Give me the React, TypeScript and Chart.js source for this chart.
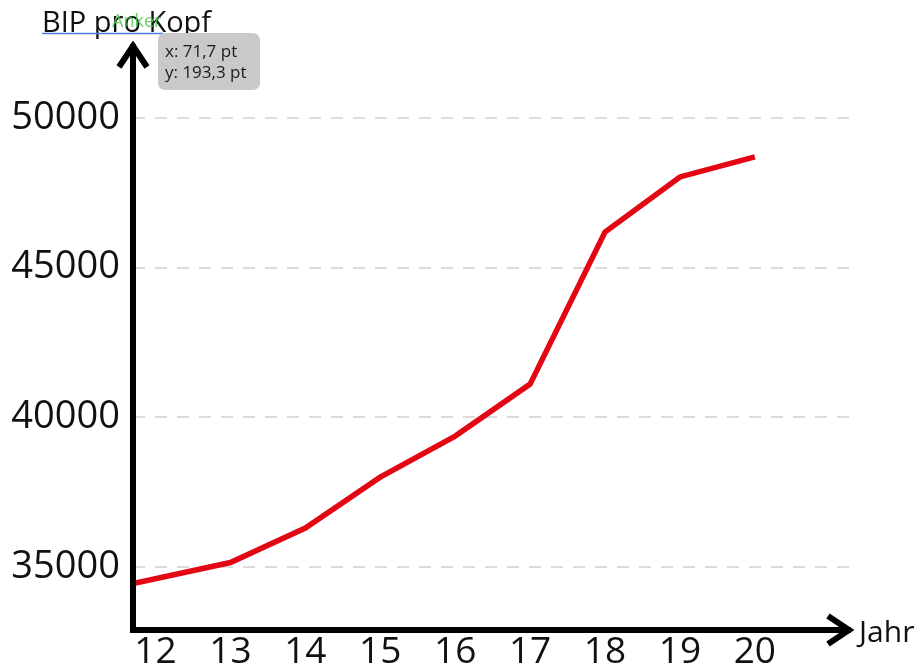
import React, { useEffect, useRef } from "react";
import { Chart, registerables } from "chart.js";

Chart.register(...registerables);

const years = [11.7, 13, 14, 15, 16, 17, 18, 19, 20];
const gdpPerCapita = [34450, 35150, 36300, 38000, 39375, 41110, 46190, 48030, 48700];
const xTickYears = [12, 13, 14, 15, 16, 17, 18, 19, 20];
const yTickValues = [35000, 40000, 45000, 50000];
const yAxisTitle = "BIP pro Kopf";
const xAxisTitle = "Jahr";
const anchorLabel = "Anker";
const infoLines = ["x: 71,7 pt", "y: 193,3 pt"];

const FONT = "'Open Sans', 'DejaVu Sans', sans-serif";

const overlayPlugin = {
  id: "axesOverlay",
  afterDatasetsDraw(chart: any) {
    const { ctx, chartArea } = chart;
    const { left, top, bottom, right } = chartArea;
    ctx.save();
    // axes
    ctx.strokeStyle = "#000";
    ctx.lineWidth = 6;
    ctx.lineCap = "butt";
    ctx.lineJoin = "miter";
    ctx.beginPath();
    ctx.moveTo(left, bottom + 3);
    ctx.lineTo(left, top + 2);
    ctx.moveTo(left - 3, bottom);
    ctx.lineTo(right + 1, bottom);
    ctx.stroke();
    // y arrow
    ctx.beginPath();
    ctx.moveTo(left - 14, top + 25);
    ctx.lineTo(left, top + 4);
    ctx.lineTo(left + 14, top + 25);
    ctx.stroke();
    // x arrow
    ctx.beginPath();
    ctx.moveTo(right - 22, bottom - 14);
    ctx.lineTo(right - 1, bottom);
    ctx.lineTo(right - 22, bottom + 14);
    ctx.stroke();

    // titles
    ctx.fillStyle = "#111";
    ctx.textBaseline = "alphabetic";
    ctx.textAlign = "left";
    ctx.font = `29px ${FONT}`;
    ctx.fillText(yAxisTitle, 42, 32);
    ctx.font = `30px ${FONT}`;
    ctx.fillText(xAxisTitle, 859, 642);

    // blue anchor line
    ctx.strokeStyle = "#4f7be8";
    ctx.lineWidth = 1.6;
    ctx.beginPath();
    ctx.moveTo(42, 33.5);
    ctx.lineTo(163, 33.5);
    ctx.stroke();

    ctx.fillStyle = "rgba(80, 205, 80, 0.85)";
    ctx.font = `18px ${FONT}`;
    ctx.fillText(anchorLabel, 112, 27);

    // info box
    ctx.fillStyle = "#c9c9c9";
    ctx.beginPath();
    (ctx as any).roundRect(158, 33, 102, 57, 7);
    ctx.fill();
    ctx.fillStyle = "#1a1a1a";
    ctx.font = `17px ${FONT}`;
    ctx.fillText(infoLines[0], 165, 57);
    ctx.fillText(infoLines[1], 165, 78);
    ctx.restore();
  },
};

export default function App() {
  const ref = useRef<HTMLCanvasElement | null>(null);
  useEffect(() => {
    if (!ref.current) return;
    const chart = new Chart(ref.current, {
      type: "line",
      data: {
        datasets: [
          {
            data: years.map((y, i) => ({ x: y, y: gdpPerCapita[i] })),
            borderColor: "#e30613",
            borderWidth: 5.5,
            pointRadius: 0,
            tension: 0,
            fill: false,
          },
        ],
      },
      options: {
        animation: false,
        responsive: true,
        maintainAspectRatio: false,
        layout: { padding: { top: 42, right: 71, left: 0, bottom: 0 } },
        plugins: { legend: { display: false }, tooltip: { enabled: false } },
        scales: {
          x: {
            type: "linear",
            min: 11.7,
            max: 21.27,
            afterBuildTicks: (s: any) => {
              s.ticks = xTickYears.map((v) => ({ value: v }));
            },
            afterFit: (s: any) => {
              s.height = 38;
            },
            grid: { display: false, drawTicks: false },
            border: { display: false },
            ticks: {
              font: { family: FONT, size: 37 },
              color: "#111",
              padding: 0,
              maxRotation: 0,
              autoSkip: false,
            },
          },
          y: {
            type: "linear",
            min: 32895,
            max: 52539,
            afterBuildTicks: (s: any) => {
              s.ticks = yTickValues.map((v) => ({ value: v }));
            },
            afterFit: (s: any) => {
              s.width = 133;
            },
            grid: { color: "#dcdcdc", lineWidth: 2, drawTicks: false },
            border: { display: false, dash: [12, 10] },
            ticks: {
              font: { family: FONT, size: 38 },
              color: "#111",
              padding: 13,
              callback: (v: any) => String(v),
            },
          },
        },
      },
      plugins: [overlayPlugin],
    });
    return () => chart.destroy();
  }, []);
  return (
    <div style={{ position: "fixed", left: 0, top: 0, width: 921, height: 668, background: "#fff" }}>
      <canvas ref={ref} />
    </div>
  );
}
